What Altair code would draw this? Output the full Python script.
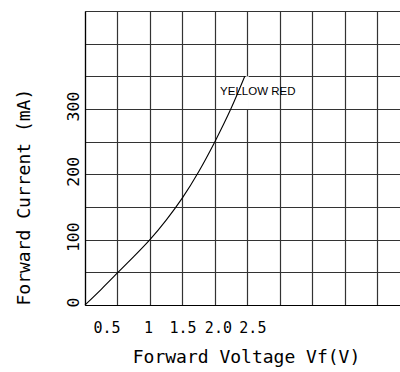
import altair as alt
import pandas as pd

# Curve
voltage = [0.0, 0.25, 0.5, 0.75, 1.0, 1.25, 1.5, 1.75, 2.0, 2.25, 2.46]
current = [0, 24, 49, 74, 100, 130, 164, 204, 250, 301, 350]

# Axes
x_grid = [0, 0.5, 1, 1.5, 2, 2.5, 3, 3.5, 4, 4.5]
x_tick_values = [0.5, 1, 1.5, 2, 2.5]
x_tick_labels = ["0.5", "1", "1.5", "2.0", "2.5"]
y_grid = [0, 50, 100, 150, 200, 250, 300, 350, 400, 450]
y_tick_values = [0, 100, 200, 300]
y_tick_labels = ["0", "100", "200", "300"]

series_label = ["YELLOW RED"]
label_v = [2.66]
label_i = [326]

# gap in the 2.5 V grid line beside the label
gap_v = [2.5]
gap_i0 = [300]
gap_i1 = [350]

x_label_shift = {0.5: -11, 1: -2, 1.5: 0, 2: 3, 2.5: 5}

curve_df = pd.DataFrame({"v": voltage, "i": current})
label_df = pd.DataFrame({"v": label_v, "i": label_i, "t": series_label})
gap_df = pd.DataFrame({"v": gap_v, "i": gap_i0, "i1": gap_i1})

x_label_expr = " : ".join(
    [f"datum.value == {v} ? '{t}'" for v, t in zip(x_tick_values, x_tick_labels)]
) + " : ''"
y_label_expr = " : ".join(
    [f"datum.value == {v} ? '{t}'" for v, t in zip(y_tick_values, y_tick_labels)]
) + " : ''"
x_offset_expr = " : ".join(
    [f"datum.value == {v} ? {o}" for v, o in x_label_shift.items()]
) + " : 0"

MONO = "DejaVu Sans Mono"
GRID = "#333333"

x_scale = alt.Scale(domain=[0, 4.85], nice=False, zero=False)
y_scale = alt.Scale(domain=[0, 450], nice=False)

x_axis = alt.Axis(
    values=x_grid,
    labelExpr=x_label_expr,
    labelOffset={"expr": x_offset_expr},
    labelFont=MONO,
    labelFontSize=15,
    labelColor="black",
    labelBaseline="middle",
    labelPadding=22,
    labelAngle=0,
    labelOverlap=False,
    labelFlush=False,
    ticks=False,
    tickSize=0,
    grid=True,
    gridColor=GRID,
    gridWidth=1.2,
    domain=True,
    domainColor="black",
    domainWidth=1.2,
    title="Forward Voltage Vf(V)",
    titleFont=MONO,
    titleFontSize=18,
    titleFontWeight="normal",
    titleColor="black",
    titleAlign="center",
    titleBaseline="middle",
    titleX=161,
    titleY=52,
)

y_axis = alt.Axis(
    values=y_grid,
    labelExpr=y_label_expr,
    labelFont=MONO,
    labelFontSize=16.5,
    labelColor="black",
    labelAngle=270,
    labelAlign="center",
    labelBaseline="bottom",
    labelPadding=4,
    labelOffset=-3,
    labelOverlap=False,
    labelFlush=False,
    ticks=False,
    tickSize=0,
    grid=True,
    gridColor=GRID,
    gridWidth=1.2,
    domain=True,
    domainColor="black",
    domainWidth=1.2,
    title="Forward Current (mA)",
    titleFont=MONO,
    titleFontSize=18,
    titleFontWeight="normal",
    titleColor="black",
    titleAngle=270,
    titleAlign="left",
    titleBaseline="middle",
    titleX=-61,
    titleY=294,
)

X = alt.X("v:Q", scale=x_scale, axis=x_axis)
Y = alt.Y("i:Q", scale=y_scale, axis=y_axis)

curve = alt.Chart(curve_df).mark_line(
    color="black", strokeWidth=1.1, interpolate="natural"
).encode(x=X, y=Y)

gap = alt.Chart(gap_df).mark_rule(color="white", strokeWidth=3).encode(
    x=X, y=Y, y2="i1:Q"
)

text = alt.Chart(label_df).mark_text(
    font="Liberation Sans", fontSize=11.5, color="black", align="center", baseline="middle"
).encode(x=X, y=Y, text="t:N")

chart = alt.layer(curve, gap, text).properties(
    width=315,
    height=294,
    autosize=alt.AutoSizeParams(type="none"),
    padding={"left": 85, "top": 11, "right": 0, "bottom": 67},
    background="white",
).configure_view(stroke=None)

chart.save("out.html", embed_options={"renderer": "svg", "actions": False})
